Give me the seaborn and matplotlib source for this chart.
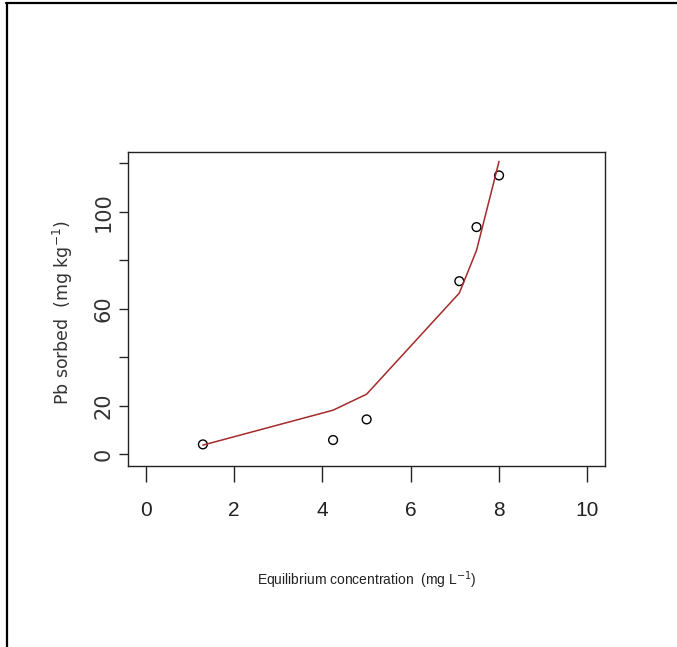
import matplotlib
matplotlib.use("Agg")
import matplotlib.pyplot as plt
from matplotlib.lines import Line2D
import pandas as pd
import seaborn as sns

# equilibrium concentration (mg/L), observed Pb sorbed and fitted curve (mg/kg)
conc = [1.29, 4.24, 5.00, 7.10, 7.49, 8.00]
pb_observed = [4.1, 5.9, 14.4, 71.4, 93.7, 115.0]
pb_fitted = [3.8, 18.2, 24.8, 66.5, 84.1, 120.8]

x_ticks = [0, 2, 4, 6, 8, 10]
y_ticks = [0, 20, 40, 60, 80, 100, 120]
y_tick_labels = ["0", "20", "", "60", "", "100", ""]

df = pd.DataFrame({"conc": conc, "observed": pb_observed, "fitted": pb_fitted})

sns.set_theme(style="white")
narrow = ["Liberation Sans Narrow", "DejaVu Sans Condensed", "Liberation Sans", "DejaVu Sans"]
plt.rcParams["font.family"] = ["DejaVu Sans"]

fig = plt.figure(figsize=(6.77, 6.47), dpi=100)
ax = fig.add_axes([0.1895, 0.2798, 0.7041, 0.4858])

sns.lineplot(data=df, x="conc", y="fitted", color="#a52a2a", linewidth=1.1,
             estimator=None, sort=True, ax=ax)
sns.scatterplot(data=df, x="conc", y="observed", marker="o", s=40,
                facecolors="none", edgecolor="black", linewidth=1, ax=ax)

ax.set_xlim(-0.4, 10.4)
ax.set_ylim(-4.8, 124.8)

for sp in ax.spines.values():
    sp.set_visible(True)
    sp.set_color("#222222")
    sp.set_linewidth(1)

ax.set_xticks(x_ticks)
ax.set_xticklabels([str(t) for t in x_ticks], family=narrow, fontsize=15)
ax.set_yticks(y_ticks)
ax.set_yticklabels(y_tick_labels, rotation=90, va="center", fontsize=15,
                   color="#333333")
ax.tick_params(axis="x", direction="out", length=11.5, width=1, pad=14,
               bottom=True, colors="#222222")
ax.tick_params(axis="y", direction="out", length=6.5, width=1, pad=4,
               left=True)

ax.set_xlabel(r"Equilibrium concentration  (mg L$^{-1}$)", family=narrow,
              fontsize=10, va="center", color="#222222")
ax.xaxis.set_label_coords(0.5, -0.3627)
ax.set_ylabel(r"Pb sorbed  (mg kg$^{-1}$)", fontsize=12.5, va="center",
              color="#333333")
ax.yaxis.set_label_coords(-0.137, 0.489)

# outer frame lines on the top and left edge of the picture
fig.add_artist(Line2D([0.009, 1.0], [0.9954, 0.9954], transform=fig.transFigure,
                      color="black", linewidth=1.6))
fig.add_artist(Line2D([0.0100, 0.0100], [0.0, 0.9954], transform=fig.transFigure,
                      color="black", linewidth=1.6))

fig.savefig("out.png", dpi=100)
